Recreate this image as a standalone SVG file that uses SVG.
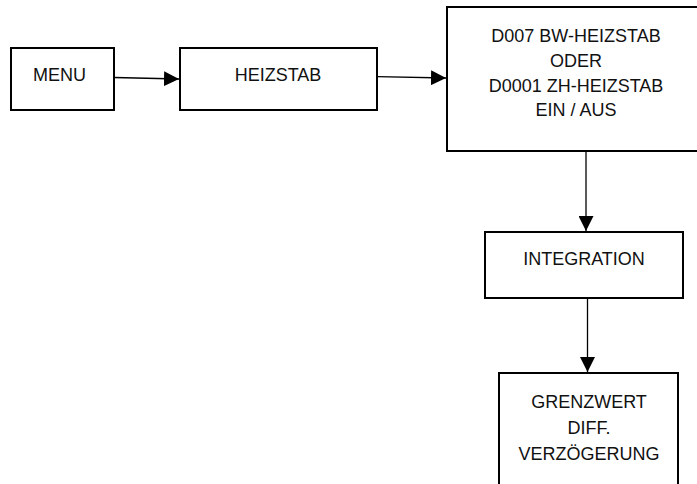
<svg xmlns="http://www.w3.org/2000/svg" width="697" height="484" viewBox="0 0 697 484">
<style>
.box{fill:#fff;stroke:#000;stroke-width:2}
.t{font-family:"Liberation Sans",Arial,sans-serif;font-size:18px;fill:#111;text-anchor:middle}
.c{stroke:#000;stroke-width:1.3;fill:none}
</style>
<defs>
<marker id="ah" markerUnits="userSpaceOnUse" markerWidth="15" markerHeight="15" refX="15" refY="7.5" orient="auto">
<path d="M0,0 L15,7.5 L0,15 z" fill="#000"/>
</marker>
</defs>
<rect width="697" height="484" fill="#fff"/>
<g id="n-menu">
<rect class="box" x="11" y="48" width="103" height="62"/>
<text class="t" x="59.5" y="81">MENU</text>
</g>
<g id="n-heizstab">
<rect class="box" x="180" y="48" width="197" height="62"/>
<text class="t" x="278" y="81">HEIZSTAB</text>
</g>
<g id="n-d007">
<rect class="box" x="447" y="7" width="260" height="144"/>
<text class="t" x="576" y="42">D007 BW-HEIZSTAB</text>
<text class="t" x="576" y="67">ODER</text>
<text class="t" x="576" y="91.5">D0001 ZH-HEIZSTAB</text>
<text class="t" x="576" y="116">EIN / AUS</text>
</g>
<g id="n-integration">
<rect class="box" x="485" y="232" width="198" height="66"/>
<text class="t" x="584" y="264.5">INTEGRATION</text>
</g>
<g id="n-grenzwert">
<rect class="box" x="499" y="373" width="179" height="130"/>
<text class="t" x="589" y="407.5">GRENZWERT</text>
<text class="t" x="589" y="434">DIFF.</text>
<text class="t" x="589" y="460">VERZÖGERUNG</text>
</g>
<g id="connectors">
<line class="c" x1="114" y1="77.5" x2="179" y2="79" marker-end="url(#ah)"/>
<line class="c" x1="377" y1="76.7" x2="446" y2="78" marker-end="url(#ah)"/>
<line class="c" x1="586" y1="152" x2="586" y2="231" marker-end="url(#ah)"/>
<line class="c" x1="587.5" y1="298" x2="587.5" y2="372" marker-end="url(#ah)"/>
</g>
</svg>
